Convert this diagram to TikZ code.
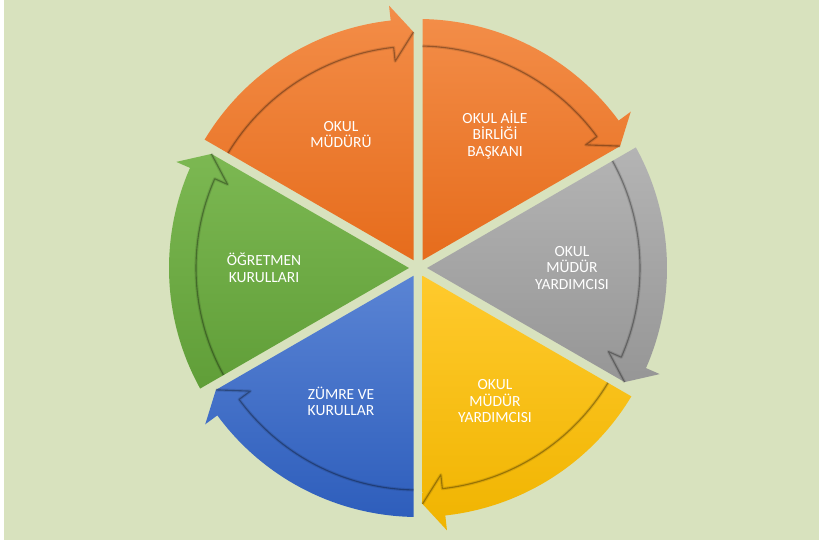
\documentclass[tikz,border=0pt]{standalone}
\usepackage{fontspec}
\setmainfont{Carlito}
\definecolor{bg}{RGB}{216,226,190}
\definecolor{orT}{RGB}{243,141,72}
\definecolor{orB}{RGB}{230,108,28}
\definecolor{grT}{RGB}{180,180,180}
\definecolor{grB}{RGB}{150,150,150}
\definecolor{yeT}{RGB}{255,202,45}
\definecolor{yeB}{RGB}{240,180,0}
\definecolor{blT}{RGB}{90,132,212}
\definecolor{blB}{RGB}{46,94,188}
\definecolor{gnT}{RGB}{124,184,82}
\definecolor{gnB}{RGB}{96,158,56}
\tikzset{
  segtext/.style={text=white, align=center, font=\fontsize{15.5}{16.5}\selectfont, inner sep=0pt},
  shadowwide/.style={black, opacity=0.10, line width=3.2pt, line join=round},
  shadowthin/.style={black, opacity=0.30, line width=1.1pt, line join=round}
}
\begin{document}
\begin{tikzpicture}[x=1pt,y=1pt]
\useasboundingbox (0,0) rectangle (819,540);
\fill[white] (0,0) rectangle (4,540);
\fill[bg] (4,0) rectangle (819,540);
\begin{scope}[shift={(418,272)}]
\pgfmathsetmacro\dR{asin(4.5/249)}
\pgfmathsetmacro\dT{asin(4.5/236)}
\pgfmathsetmacro\dI{asin(4.5/222)}
\foreach \a/\ct/\cb/\nm/\txt in {
  150/orT/orB/mudur/{OKUL\\MÜDÜRÜ},
  90/orT/orB/aile/{OKUL AİLE\\BİRLİĞİ\\BAŞKANI},
  30/grT/grB/yard1/{OKUL\\MÜDÜR\\YARDIMCISI},
  -30/yeT/yeB/yard2/{OKUL\\MÜDÜR\\YARDIMCISI},
  -90/blT/blB/zumre/{ZÜMRE VE\\KURULLAR},
  -150/gnT/gnB/ogret/{ÖĞRETMEN\\KURULLARI}} {
  \pgfmathsetmacro\bb{\a-60}
  \pgfmathsetmacro\md{\a-30}
  \pgfmathsetmacro\sa{\a-\dR}
  \pgfmathsetmacro\si{\a-\dI}
  \pgfmathsetmacro\hb{\bb+6.3}
  \pgfmathsetmacro\tp{\bb+\dT}
  \shade[top color=\ct, bottom color=\cb]
    (\md:9) -- (\sa:249) arc[start angle=\sa, end angle=\hb, radius=249]
    -- (\hb:264) -- (\tp:236) -- cycle;
  \draw[shadowwide] (\si:222) arc[start angle=\si, end angle=\hb, radius=222]
    -- (\hb:208) -- (\tp:236);
  \draw[shadowthin] (\si:222) arc[start angle=\si, end angle=\hb, radius=222]
    -- (\hb:208) -- (\tp:236);
  \node[segtext] (\nm) at (\md:154) {\txt};
}
\end{scope}
\end{tikzpicture}
\end{document}
